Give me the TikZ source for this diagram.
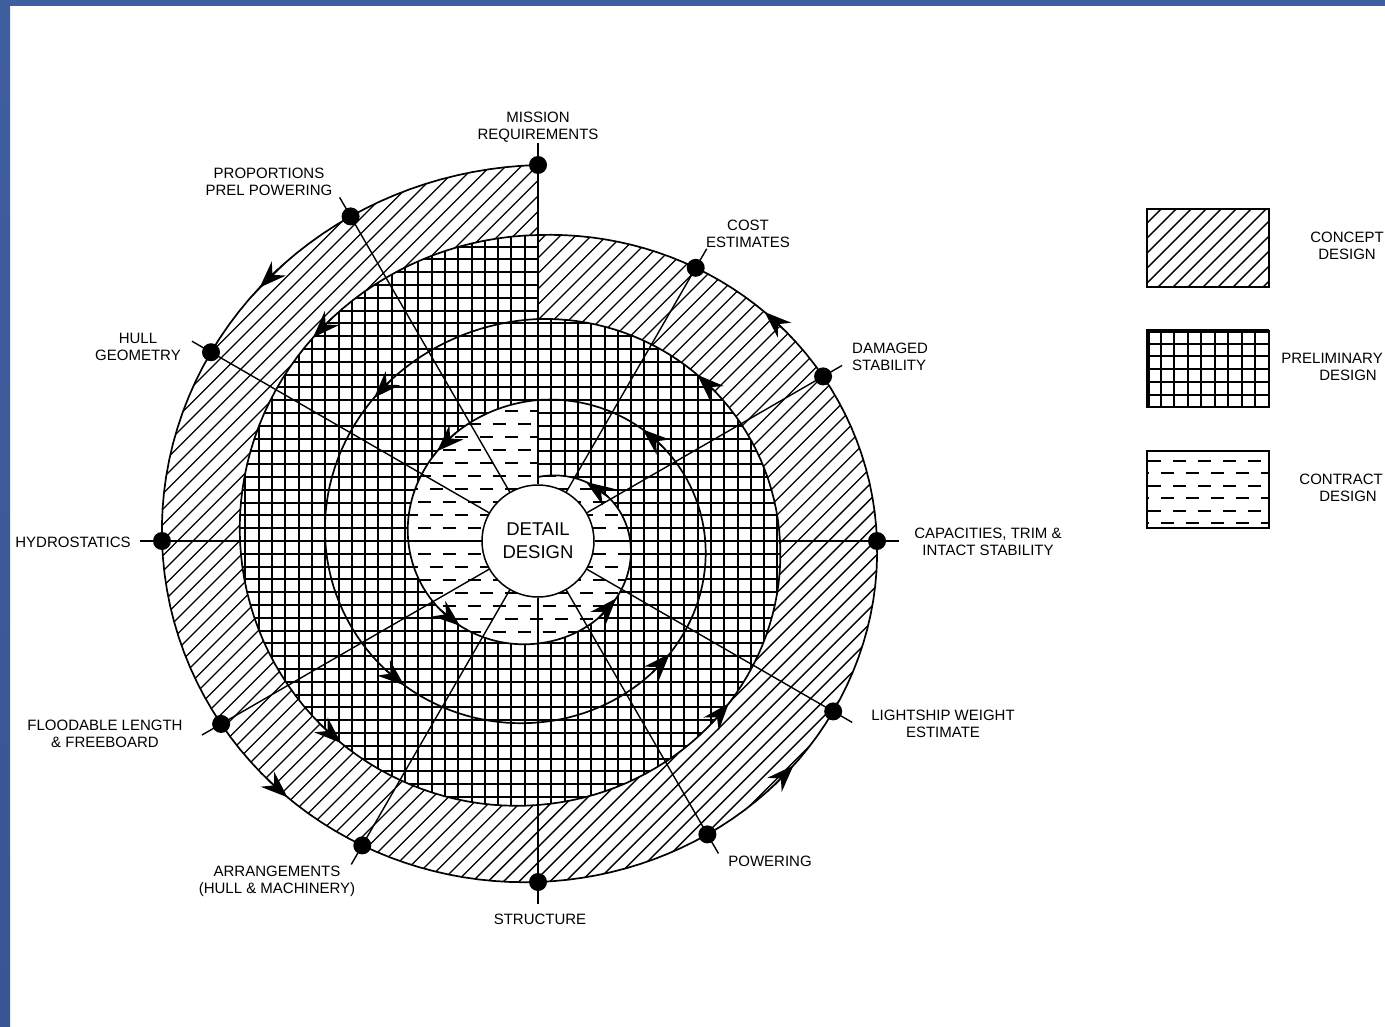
\documentclass[tikz,border=0pt]{standalone}
\usepackage{fontspec}
\setmainfont{Liberation Sans}
\usetikzlibrary{arrows.meta}
\definecolor{barblue}{HTML}{3F5EA0}
\definecolor{barlight}{HTML}{6A96EE}
\definecolor{bardark}{HTML}{3A5594}
\newcommand\spiralarrow[2]{%
  \pgfmathsetmacro\spR{#1(#2)}%
  \pgfmathsetmacro\spD{13/\spR*57.2958}%
  \pgfmathsetmacro\spTa{#2-\spD}%
  \pgfmathsetmacro\spTb{#2+\spD}%
  \pgfmathsetmacro\spXa{538+#1(\spTa)*cos(90+\spTa)}%
  \pgfmathsetmacro\spYa{541-#1(\spTa)*sin(90+\spTa)}%
  \pgfmathsetmacro\spXb{538+#1(\spTb)*cos(90+\spTb)}%
  \pgfmathsetmacro\spYb{541-#1(\spTb)*sin(90+\spTb)}%
  \draw[arrtip] (\spXa,\spYa) -- (\spXb,\spYb);%
}
\begin{document}
\begin{tikzpicture}[x=1pt,y=-1pt,
  declare function={
    sq(\x)=sin(\x)*sin(\x);
    ra(\x)=376-\x/360*70+16.5*sq(\x)+1*sin(\x);
    rb(\x)=306-\x/360*84+6*sq(\x)+7*sin(\x);
    rc(\x)=222-\x/360*81+8.5*sq(\x)+2.5*sin(\x);
    rd(\x)=141-\x/360*77+8.5*sq(\x)-0.5*sin(\x);
  },
  lbl/.style={font=\fontsize{15}{17}\selectfont, align=center, inner sep=0pt},
  hatchline/.style={line width=1.4pt},
  gridline/.style={line width=2pt},
  dashline/.style={line width=2pt, dash pattern=on 13pt off 12pt},
  spkline/.style={line width=1.4pt},
  spkdot/.style={circle, fill=black, minimum size=18pt, inner sep=0pt},
  arrtip/.style={line width=1.6pt, -{Stealth[length=27pt,width=20pt,inset=9pt]}},
  spir/.style={line width=1.7pt},
  boxline/.style={line width=2pt}
]
\useasboundingbox (0,0) rectangle (1385,1027);
\fill[white] (0,0) rectangle (1385,1027);
\shade[top color=barblue, middle color=barlight, bottom color=bardark] (0,0) rectangle (10,1027);
\fill[barblue] (0,0) rectangle (1385,6);

% concept design hatch
\begin{scope}
\clip plot[domain=0:360,samples=145] ({538+ra(\x)*cos(90+\x)},{541-ra(\x)*sin(90+\x)})
 -- plot[domain=360:0,samples=145] ({538+rb(\x)*cos(90+\x)},{541-rb(\x)*sin(90+\x)}) -- cycle;
\foreach \c in {300,315.5,...,1800} \draw[hatchline] ({\c-1000},1000) -- ({\c-100},100);
\end{scope}

% preliminary design grid
\begin{scope}
\clip plot[domain=0:360,samples=145] ({538+rb(\x)*cos(90+\x)},{541-rb(\x)*sin(90+\x)})
 -- plot[domain=360:0,samples=145] ({538+rd(\x)*cos(90+\x)},{541-rd(\x)*sin(90+\x)}) -- cycle;
\foreach \i in {-30,...,30} \draw[gridline] ({538+13.3*\i},150) -- ({538+13.3*\i},900);
\foreach \j in {-30,...,30} \draw[gridline] (150,{541+12.8*\j}) -- (900,{541+12.8*\j});
\end{scope}

% contract design dashes
\begin{scope}
\clip plot[domain=0:360,samples=145] ({538+rd(\x)*cos(90+\x)},{541-rd(\x)*sin(90+\x)}) -- cycle;
\foreach \j in {-12,...,12} {
  \pgfmathsetmacro\ph{mod(abs(\j),2)*12.5}
  \draw[dashline, dash phase=\ph pt] (380,{541+13*\j}) -- (700,{541+13*\j});
}
\end{scope}

% spiral
\draw[spir] plot[domain=0:360,samples=145] ({538+ra(\x)*cos(90+\x)},{541-ra(\x)*sin(90+\x)});
\draw[spir] plot[domain=0:360,samples=145] ({538+rb(\x)*cos(90+\x)},{541-rb(\x)*sin(90+\x)});
\draw[spir] plot[domain=0:360,samples=145] ({538+rc(\x)*cos(90+\x)},{541-rc(\x)*sin(90+\x)});
\draw[spir] plot[domain=0:360,samples=145] ({538+rd(\x)*cos(90+\x)},{541-rd(\x)*sin(90+\x)});

% detail design
\node[circle, draw, line width=1.5pt, fill=white, minimum size=112pt, inner sep=0pt,
      font=\fontsize{18.5}{23}\selectfont, align=center] (det) at (538,541) {DETAIL\\DESIGN};

% spokes and dots
\foreach \k in {0,...,11} {
  \pgfmathsetmacro\rr{ra(30*\k)}
  \pgfmathsetmacro\lw{mod(\k,3)==0 ? 2.4 : 1.4}
  \coordinate (e\k) at ({538+(\rr+22)*cos(90+30*\k)},{541-(\rr+22)*sin(90+30*\k)});
  \draw[spkline, line width=\lw pt] (det) -- (e\k);
  \node[spkdot] (d\k) at ({538+\rr*cos(90+30*\k)},{541-\rr*sin(90+30*\k)}) {};
}

% arrows along the spiral
\spiralarrow{ra}{45.7}\spiralarrow{ra}{133.6}\spiralarrow{ra}{226.5}\spiralarrow{ra}{313}
\spiralarrow{rb}{45.4}\spiralarrow{rb}{133.1}\spiralarrow{rb}{226.6}\spiralarrow{rb}{313}
\spiralarrow{rc}{45.4}\spiralarrow{rc}{133.4}\spiralarrow{rc}{225.2}\spiralarrow{rc}{312}
\spiralarrow{rd}{42.8}\spiralarrow{rd}{131}\spiralarrow{rd}{226}\spiralarrow{rd}{311.5}

% labels
\node[lbl] (lmis) at (538,127) {MISSION\\REQUIREMENTS};
\node[lbl] (lpro) at (269,182) {PROPORTIONS\\PREL POWERING};
\node[lbl] (lcost) at (748,234) {COST\\ESTIMATES};
\node[lbl, align=left, anchor=west] (ldam) at (852,357) {DAMAGED\\STABILITY};
\node[lbl] (lcap) at (988,542) {CAPACITIES, TRIM \&\\INTACT STABILITY};
\node[lbl] (llig) at (943,724) {LIGHTSHIP WEIGHT\\ESTIMATE};
\node[lbl] (lpow) at (770,861) {POWERING};
\node[lbl] (lstr) at (540,919) {STRUCTURE};
\node[lbl] (larr) at (277,881) {ARRANGEMENTS\\(HULL \& MACHINERY)};
\node[lbl] (lflo) at (105,734) {FLOODABLE LENGTH\\\& FREEBOARD};
\node[lbl] (lhyd) at (73,542) {HYDROSTATICS};
\node[lbl] (lhul) at (138,347) {HULL\\GEOMETRY};

% legend
\begin{scope}
\clip (1147,209) rectangle (1269,287);
\foreach \c in {1340,1355,...,1580} \draw[hatchline] ({\c-300},300) -- ({\c-100},100);
\end{scope}
\draw[boxline] (1147,209) rectangle (1269,287);

\begin{scope}
\clip (1147,331) rectangle (1269,407);
\foreach \i in {0,...,9} \draw[gridline] ({1147+13.5*\i},325) -- ({1147+13.5*\i},410);
\foreach \j in {0,...,6} \draw[gridline] (1140,{331+12.7*\j}) -- (1275,{331+12.7*\j});
\end{scope}
\draw[boxline] (1147,331) rectangle (1269,407);
\draw[line width=4pt] (1148,407) -- (1148,331) -- (1269,331);

\begin{scope}
\clip (1147,451) rectangle (1269,528);
\foreach \j in {0,...,5} {
  \pgfmathsetmacro\ph{mod(\j,2)*12.5}
  \draw[dashline, dash phase=\ph pt] (1148,{461+12.4*\j}) -- (1269,{461+12.4*\j});
}
\end{scope}
\draw[boxline] (1147,451) rectangle (1269,528);

\node[lbl] (lcon) at (1347,246) {CONCEPT\\DESIGN};
\node[lbl, align=right, anchor=east] (lpre) at (1383,367) {PRELIMINARY\\DESIGN\hspace*{6pt}};
\node[lbl, align=right, anchor=east] (lctr) at (1383,488) {CONTRACT\\DESIGN\hspace*{6pt}};
\end{tikzpicture}
\end{document}
